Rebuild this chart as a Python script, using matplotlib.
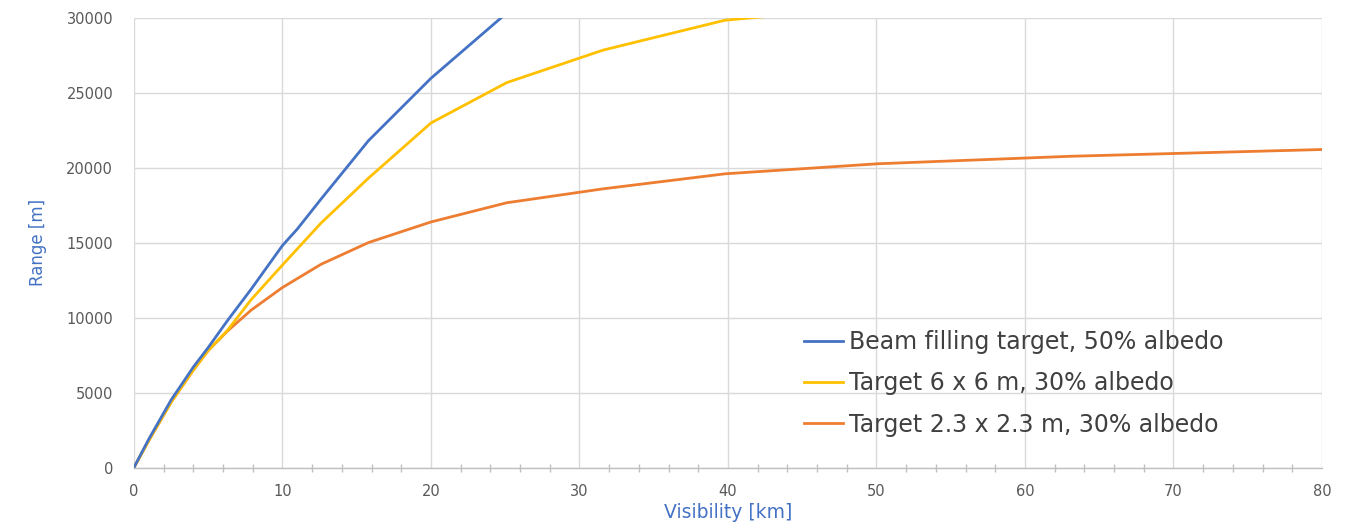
import matplotlib
matplotlib.use("Agg")
import matplotlib.pyplot as plt
from matplotlib.ticker import MultipleLocator

# Data (visibility in km, range in m)
vis_blue = [0, 1, 2.5, 4, 5, 6.3, 7.9, 10, 11, 12.6, 15.8, 20, 25.1]
rng_blue = [0, 1900, 4500, 6700, 8000, 9800, 11900, 14800, 15900, 17900, 21800, 25950, 30300]

vis_yellow = [0, 1, 2.5, 4, 5, 6.3, 7.9, 10, 12.6, 15.8, 20, 25.1, 31.6, 39.8, 50.1]
rng_yellow = [0, 1800, 4350, 6500, 7800, 9150, 11200, 13500, 16300, 19300, 22970, 25660, 27830, 29820, 30750]

vis_orange = [0, 1, 2.5, 4, 5, 6.3, 7.9, 10, 12.6, 15.8, 20, 25.1, 31.6, 39.8, 50.1, 63.1, 80]
rng_orange = [0, 1800, 4350, 6500, 7800, 9100, 10500, 12000, 13550, 15000, 16370, 17650, 18580, 19580, 20250, 20750, 21200]

labels = ["Beam filling target, 50% albedo",
          "Target 6 x 6 m, 30% albedo",
          "Target 2.3 x 2.3 m, 30% albedo"]
colors = ["#4472C4", "#FFC000", "#ED7D31"]

x_ticks = [0, 10, 20, 30, 40, 50, 60, 70, 80]
y_ticks = [0, 5000, 10000, 15000, 20000, 25000, 30000]

plt.rcParams['font.family'] = ['DejaVu Sans']

fig = plt.figure(figsize=(13.45, 5.26), dpi=100)
ax = fig.add_axes([0.0996, 0.1112, 0.8833, 0.8555])

ax.plot(vis_orange, rng_orange, color=colors[2], lw=2.0, label=labels[2], zorder=3)
ax.plot(vis_yellow, rng_yellow, color=colors[1], lw=2.0, label=labels[1], zorder=4)
ax.plot(vis_blue, rng_blue, color=colors[0], lw=2.0, label=labels[0], zorder=5)

ax.set_xlim(0, 80)
ax.set_ylim(0, 30000)
ax.set_xticks(x_ticks)
ax.set_yticks(y_ticks)
ax.xaxis.set_minor_locator(MultipleLocator(2))
ax.grid(True, which='major', color='#D9D9D9', lw=1.0, zorder=0)
ax.set_axisbelow(True)

for s in ['top', 'right', 'left']:
    ax.spines[s].set_visible(False)
ax.spines['bottom'].set_color('#BFBFBF')
ax.spines['bottom'].set_linewidth(1.0)

ax.tick_params(axis='y', length=0, labelsize=10.5, labelcolor='#595959', pad=15)
ax.tick_params(axis='x', which='major', direction='inout', length=0,
               labelsize=10.5, labelcolor='#595959', pad=12)
ax.tick_params(axis='x', which='minor', direction='inout', length=6,
               color='#BFBFBF', width=1.0)

ax.set_ylabel("Range [m]", color='#4472C4', fontsize=12, labelpad=14)
ax.set_xlabel("Visibility [km]", color='#4472C4', fontsize=13.5, labelpad=3)

h, l = ax.get_legend_handles_labels()
order = [2, 1, 0]
leg = ax.legend([h[i] for i in order], [l[i] for i in order],
                loc='upper left', bbox_to_anchor=(0.564, 0.305),
                frameon=False, fontsize=17, handlelength=1.65,
                handletextpad=0.25, labelspacing=0.73, borderpad=0,
                borderaxespad=0)
for t in leg.get_texts():
    t.set_color('#404040')

fig.savefig("out.png", dpi=100)
